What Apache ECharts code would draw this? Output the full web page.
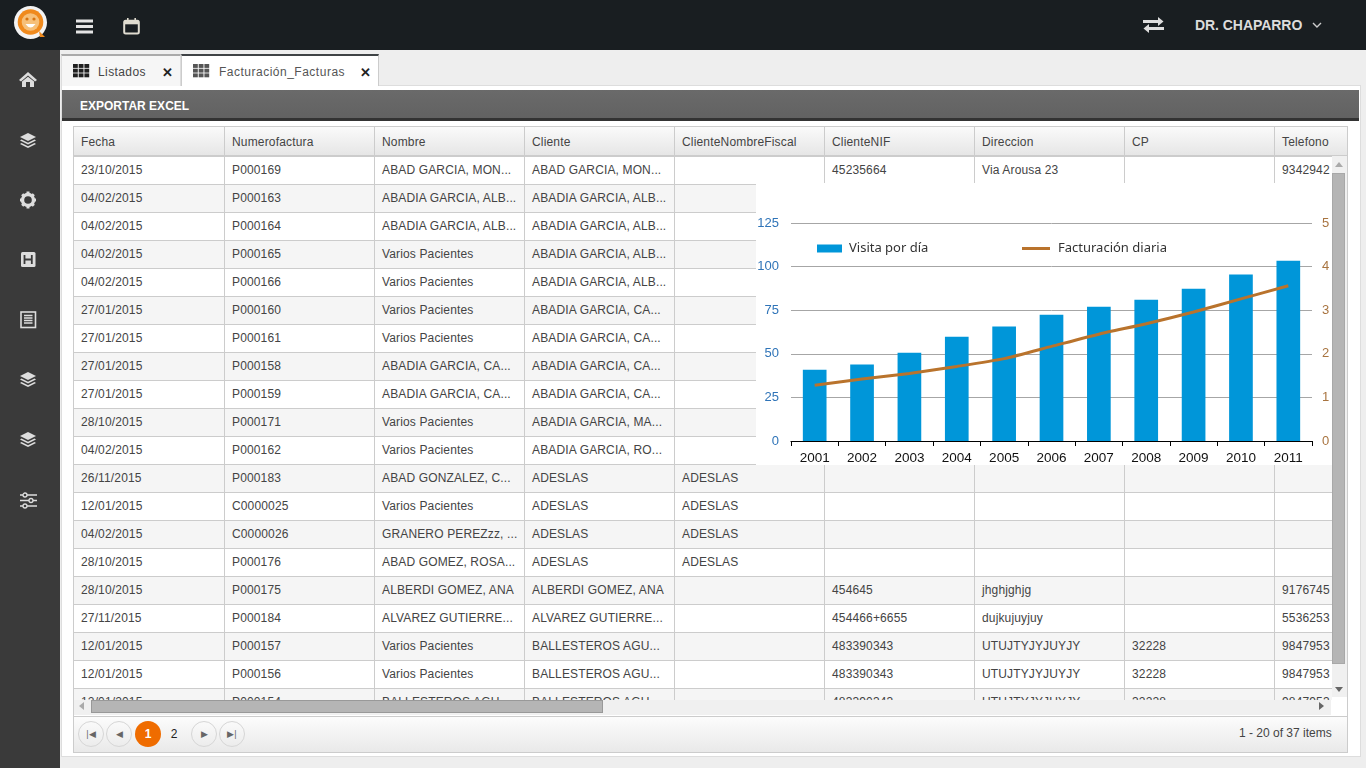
<!DOCTYPE html>
<html><head><meta charset="utf-8">
<script src="https://cdn.jsdelivr.net/npm/echarts@6/dist/echarts.min.js"></script>
<style>
*{box-sizing:border-box}
html,body{margin:0;padding:0;width:1366px;height:768px;overflow:hidden;background:#eee;font-family:"Liberation Sans",Arial,sans-serif;color:#444;font-size:12px}
.abs{position:absolute}
#top{left:0;top:0;width:1366px;height:50px;background:#191e21}
#side{left:0;top:50px;width:60px;height:718px;background:#3a3a3a}
#panel{left:61px;top:85px;width:1300px;height:672px;background:#fff;border:1px solid #ddd}
.tab{top:54px;height:32px;border:1px solid #ddd;border-bottom:none;line-height:33px;letter-spacing:.3px}
#bar{left:62px;top:90px;width:1297px;height:31px;background:linear-gradient(#6a6a6a,#626262);border-bottom:3px solid #333;color:#fff;font-weight:bold;line-height:32px;padding-left:18px}
#grid{left:73px;top:126px;width:1275px;height:627px;border:1px solid #ccc;background:#fff}
#head{left:74px;top:127px;width:1273px;height:30px;background:linear-gradient(#fafafa,#e6e6e6);border-bottom:2px solid #ccc}
.hc{top:127px;height:28px;border-left:1px solid #ccc;line-height:30px;padding-left:7px;letter-spacing:.17px;color:#444}
#rows{left:74px;top:157px;width:1258px;height:543px;overflow:hidden}
.r{position:absolute;left:0;width:1258px;height:28px;border-bottom:1px solid #ccc}
.r.alt{background:#f5f5f5}
.c{position:absolute;top:0;height:27px;line-height:26px;padding-left:7px;border-left:1px solid #ccc;white-space:nowrap;overflow:hidden;letter-spacing:.14px}
#chartBox{left:756px;top:183px;width:576px;height:282px;background:#fff}
#vs{left:1332px;top:156px;width:15px;height:541px;background:#f0f0f0}
#vt{left:1332px;top:173px;width:13px;height:491px;background:#b5b5b5;border:1px solid #a8a8a8}
#hs{left:74px;top:700px;width:1257px;height:15px;background:#f0f0f0}
#ht{left:91px;top:700px;width:512px;height:13px;background:#b5b5b5;border:1px solid #999}
#pg{left:74px;top:716px;width:1273px;height:36px;background:linear-gradient(#fcfcfc,#e9e9e9);border-top:1px solid #ccc}
.pb{top:721px;width:26px;height:26px;border-radius:50%;border:1px solid #d6d6d6;background:linear-gradient(#fafafa,#ececec);text-align:center;line-height:24px;font-size:9px;color:#666}
.tri{width:0;height:0;position:absolute}
</style></head><body>
<div class="abs" id="top"></div>
<div class="abs" id="side"></div>
<div class="abs" id="panel"></div>

<svg class="abs" style="left:12px;top:4px" width="38" height="38" viewBox="0 0 38 38">
<circle cx="18.5" cy="18.5" r="16.5" fill="#f3f3f3"/><circle cx="18.5" cy="18" r="12.8" fill="#f08a1d"/><circle cx="18.5" cy="18" r="8.8" fill="#f6c07a"/>
<circle cx="15" cy="15" r="1.6" fill="#d8730f"/><circle cx="22" cy="15" r="1.6" fill="#d8730f"/><path d="M13.5 20 Q18.5 27 23.5 20Z" fill="#fff"/><path d="M27 27 L33 33 L28 33Z" fill="#f08a1d"/></svg>
<svg class="abs" style="left:76px;top:19px" width="18" height="15"><g fill="#e4e4e4"><rect width="17" height="3" y="0.5"/><rect width="17" height="3" y="6"/><rect width="17" height="3" y="11.5"/></g></svg>
<svg class="abs" style="left:123px;top:18px" width="18" height="17"><rect x="1.2" y="2.7" width="14.6" height="12.8" rx="1.5" fill="none" stroke="#e0dcd0" stroke-width="2"/><rect x="1.2" y="2.7" width="14.6" height="3.6" fill="#e0dcd0"/><rect x="4" y="0" width="1.6" height="3.5" fill="#e0dcd0"/><rect x="11.4" y="0" width="1.6" height="3.5" fill="#e0dcd0"/></svg>
<svg class="abs" style="left:1143px;top:17px" width="21" height="16"><g fill="#dedede"><rect x="0" y="3" width="16" height="3"/><path d="M15 0 L20.5 4.5 L15 9Z"/><rect x="5" y="10" width="16" height="3"/><path d="M6 7 L0.5 11.5 L6 16Z"/></g></svg>
<div class="abs" style="left:1195px;top:17px;color:#dcdcdc;font-weight:bold;font-size:14px;line-height:16px;letter-spacing:-.05px">DR. CHAPARRO</div>
<svg class="abs" style="left:1312px;top:22px" width="10" height="7"><path d="M1 1 L5 5 L9 1" fill="none" stroke="#ccc" stroke-width="1.4"/></svg>

<div id="sideIcons"></div>

<div class="abs tab" style="left:61px;width:120px;background:#f6f6f6;border-top:2px solid #aaa"><span class="abs" style="left:36px;letter-spacing:.4px">Listados</span><span class="abs" style="left:100px;font-weight:bold;font-size:13px;color:#222">✕</span></div>
<div class="abs tab" style="left:181px;width:198px;background:#fff;border-top:2px solid #3f4346;border-color:#ccc;border-top-color:#3f4346"><span class="abs" style="left:37px;letter-spacing:.5px;color:#555">Facturación_Facturas</span><span class="abs" style="left:178px;font-weight:bold;font-size:13px;color:#222">✕</span></div>
<svg class="abs" style="left:73px;top:64px" width="17" height="14"><g id="gi" fill="#1f1f1f"></g></svg>
<svg class="abs" style="left:193px;top:64px" width="17" height="14"><g id="gi2" fill="#555"></g></svg>

<div class="abs" id="bar">EXPORTAR EXCEL</div>
<div class="abs" id="grid"></div>
<div class="abs" id="head"></div>
<div id="heads"></div>
<div class="abs" id="rows"></div>
<div class="abs" id="chartBox"></div>
<div class="abs" id="vs"></div><div class="abs" id="vt"></div>
<div class="abs tri" style="left:1335px;top:162px;border:4px solid transparent;border-top:0;border-bottom:5px solid #aaa"></div>
<div class="abs tri" style="left:1335px;top:687px;border:4px solid transparent;border-bottom:0;border-top:5px solid #666"></div>
<div class="abs" id="hs"></div><div class="abs" id="ht"></div>
<div class="abs tri" style="left:79px;top:702px;border:4px solid transparent;border-left:0;border-right:5px solid #aaa"></div>
<div class="abs tri" style="left:1319px;top:702px;border:4px solid transparent;border-right:0;border-left:5px solid #666"></div>
<div class="abs" id="pg"></div>
<div class="abs pb" style="left:78px">|◀</div>
<div class="abs pb" style="left:106px">◀</div>
<div class="abs" style="left:135px;top:721px;width:26px;height:26px;border-radius:50%;background:#ef6c00;color:#fff;font-weight:bold;text-align:center;line-height:26px">1</div>
<div class="abs" style="left:161px;top:721px;width:26px;height:26px;color:#222;text-align:center;line-height:26px">2</div>
<div class="abs pb" style="left:191px">▶</div>
<div class="abs pb" style="left:219px">▶|</div>
<div class="abs" style="left:1239px;top:726px;line-height:14px;color:#444">1 - 20 of 37 items</div>

<script>
// ---- chart data ----
var years = ['2001','2002','2003','2004','2005','2006','2007','2008','2009','2010','2011'];
var visitasPorDia = [40.9,43.8,50.6,59.8,65.6,72.4,77.0,81.0,87.3,95.4,103.4];
var facturacionDiaria = [1.28,1.42,1.55,1.71,1.89,2.17,2.45,2.69,2.96,3.26,3.56];
var barName = 'Visita por día';
var lineName = 'Facturación diaria';

// ---- table text ----
var headers = ['Fecha','Numerofactura','Nombre','Cliente','ClienteNombreFiscal','ClienteNIF','Direccion','CP','Telefono'];
var fechas = ['23/10/2015','04/02/2015','04/02/2015','04/02/2015','04/02/2015','27/01/2015','27/01/2015','27/01/2015','27/01/2015','28/10/2015','04/02/2015','26/11/2015','12/01/2015','04/02/2015','28/10/2015','28/10/2015','27/11/2015','12/01/2015','12/01/2015','12/01/2015'];
var facturas = ['P000169','P000163','P000164','P000165','P000166','P000160','P000161','P000158','P000159','P000171','P000162','P000183','C0000025','C0000026','P000176','P000175','P000184','P000157','P000156','P000154'];
var nombres = ['ABAD GARCIA, MON...','ABADIA GARCIA, ALB...','ABADIA GARCIA, ALB...','Varios Pacientes','Varios Pacientes','Varios Pacientes','Varios Pacientes','ABADIA GARCIA, CA...','ABADIA GARCIA, CA...','Varios Pacientes','Varios Pacientes','ABAD GONZALEZ, C...','Varios Pacientes','GRANERO PEREZzz, ...','ABAD GOMEZ, ROSA...','ALBERDI GOMEZ, ANA','ALVAREZ GUTIERRE...','Varios Pacientes','Varios Pacientes','BALLESTEROS AGU...'];
var clientes = ['ABAD GARCIA, MON...','ABADIA GARCIA, ALB...','ABADIA GARCIA, ALB...','ABADIA GARCIA, ALB...','ABADIA GARCIA, ALB...','ABADIA GARCIA, CA...','ABADIA GARCIA, CA...','ABADIA GARCIA, CA...','ABADIA GARCIA, CA...','ABADIA GARCIA, MA...','ABADIA GARCIA, RO...','ADESLAS','ADESLAS','ADESLAS','ADESLAS','ALBERDI GOMEZ, ANA','ALVAREZ GUTIERRE...','BALLESTEROS AGU...','BALLESTEROS AGU...','BALLESTEROS AGU...'];
var fiscales = ['','','','','','','','','','','','ADESLAS','ADESLAS','ADESLAS','ADESLAS','','','','',''];
var nifs = ['45235664','','','','','','','','','','','','','','','454645','454466+6655','483390343','483390343','483390343'];
var direcciones = ['Via Arousa 23','','','','','','','','','','','','','','','jhghjghjg','dujkujuyjuy','UTUJTYJYJUYJY','UTUJTYJYJUYJY','UTUJTYJYJUYJY'];
var cps = ['','','','','','','','','','','','','','','','','','32228','32228','32228'];
var telefonos = ['9342942','','','','','','','','','','','','','','','9176745','5536253','9847953','9847953','9847953'];
var columns = [fechas,facturas,nombres,clientes,fiscales,nifs,direcciones,cps,telefonos];
var colX = [0,150,300,450,600,750,900,1050,1200];

// table
var hh='';
headers.forEach(function(h,i){
  var w = i==8?58:150;
  hh+='<div class="abs hc" style="left:'+(74+colX[i])+'px;width:'+w+'px;overflow:hidden;'+(i==0?'border-left:none':'')+'">'+h+'</div>';
});
document.getElementById('heads').innerHTML=hh;
var rh='';
fechas.forEach(function(_,r){
  rh+='<div class="r'+(r%2?' alt':'')+'" style="top:'+(r*28)+'px">';
  columns.forEach(function(col,i){
    var w=i==8?58:150;
    rh+='<div class="c" style="left:'+colX[i]+'px;width:'+w+'px;'+(i==0?'border-left:none':'')+'">'+col[r]+'</div>';
  });
  rh+='</div>';
});
document.getElementById('rows').innerHTML=rh;

// small icons
function gridIcon(id){var s='';for(var a=0;a<3;a++)for(var b=0;b<3;b++)s+='<rect x="'+(b*5.7)+'" y="'+(a*4.7)+'" width="4.8" height="3.9"/>';document.getElementById(id).innerHTML=s;}
gridIcon('gi');gridIcon('gi2');
var layers='<path d="M9 1 L17 5 L9 9 L1 5Z"/><path d="M2.5 7.5 L9 10.8 L15.5 7.5 L17 8.6 L9 12.6 L1 8.6Z"/><path d="M2.5 11 L9 14.3 L15.5 11 L17 12.1 L9 16 L1 12.1Z"/>';
var icons=[
 {y:71,s:'<path d="M9 1 L18 9 L16 10.5 L9 4.5 L2 10.5 L0 9Z"/><path d="M3 10.5 L9 5.8 L15 10.5 L15 16 L11 16 L11 11 L7 11 L7 16 L3 16Z"/>'},
 {y:132,s:layers},
 {y:191,s:'<circle cx="9" cy="9" r="5.5" fill="none" stroke="#ddd" stroke-width="3.4"/><g stroke="#ddd" stroke-width="3"><path d="M9 0.5V3.5M9 14.5V17.5M1 9H4M14 9H17M3.2 3.2L5.2 5.2M12.8 12.8L14.8 14.8M14.8 3.2L12.8 5.2M5.2 12.8L3.2 14.8"/></g>'},
 {y:251,s:'<rect x="2" y="1" width="14.5" height="15" rx="1.5"/><path d="M5.5 4V13M12.8 4V13M5.5 8.5H12.8" stroke="#3a3a3a" stroke-width="1.8" fill="none"/>'},
 {y:311,s:'<rect x="2" y="1" width="14.5" height="15.5" fill="none" stroke="#ddd" stroke-width="1.6"/><path d="M5 4.5H13.5M5 7H13.5M5 9.5H13.5M5 12H13.5" stroke="#ddd" stroke-width="1.3"/>'},
 {y:371,s:layers},{y:431,s:layers},
 {y:492,s:'<path d="M1 3H18M1 8.5H18M1 14H18" stroke="#ddd" stroke-width="1.5"/><circle cx="6" cy="3" r="2" fill="#3a3a3a" stroke="#ddd" stroke-width="1.3"/><circle cx="12" cy="8.5" r="2" fill="#3a3a3a" stroke="#ddd" stroke-width="1.3"/><circle cx="6" cy="14" r="2" fill="#3a3a3a" stroke="#ddd" stroke-width="1.3"/>'}
];
document.getElementById('sideIcons').innerHTML=icons.map(function(o){
  return '<svg class="abs" style="left:19px;top:'+o.y+'px" width="19" height="18" fill="#ddd">'+o.s+'</svg>';
}).join('');

// chart
var chart = echarts.init(document.getElementById('chartBox'),null,{renderer:'canvas'});
var labelFont = '"Liberation Sans",Arial,sans-serif';
chart.setOption({
  animation:false,
  backgroundColor:'#fff',
  legend:[
    {data:[barName],left:56,top:54,icon:'rect',itemWidth:25,itemHeight:8,
     textStyle:{color:'#333',fontSize:13,fontFamily:'"Noto Sans"',padding:[0,0,0,2]}},
    {data:[lineName],left:261,top:54,icon:'rect',itemWidth:28,itemHeight:3,
     textStyle:{color:'#333',fontSize:13,fontFamily:'"Noto Sans"',padding:[0,0,0,3]}}
  ],
  grid:{left:35,right:20,top:40,bottom:24,outerBoundsMode:'none'},
  xAxis:{type:'category',data:years,
    axisLine:{lineStyle:{color:'#000',width:1.2}},
    axisTick:{show:true,length:5,alignWithLabel:false,lineStyle:{color:'#000'}},
    axisLabel:{color:'#111',fontSize:13.5,fontFamily:labelFont,margin:10,interval:0}},
  yAxis:[
    {type:'value',min:0,max:125,interval:25,
     axisLine:{show:false},axisTick:{show:false},
     splitLine:{show:true,lineStyle:{color:'#a6a6a6',width:1}},
     axisLabel:{color:'#2f74b8',fontSize:13,fontFamily:labelFont,margin:12,padding:[6,0,0,0]}},
    {type:'value',min:0,max:5,interval:1,position:'right',
     axisLine:{show:false},axisTick:{show:false},splitLine:{show:false},
     axisLabel:{color:'#a87440',fontSize:13,fontFamily:labelFont,margin:10,padding:[6,0,0,0]}}
  ],
  series:[
    {name:barName,type:'bar',data:visitasPorDia,barWidth:'50%',itemStyle:{color:'#0096d9'}},
    {name:lineName,type:'line',yAxisIndex:1,data:facturacionDiaria,smooth:0.2,symbol:'none',
     lineStyle:{color:'#b9732c',width:3},itemStyle:{color:'#b9732c'}}
  ]
});
</script>
</body></html>
